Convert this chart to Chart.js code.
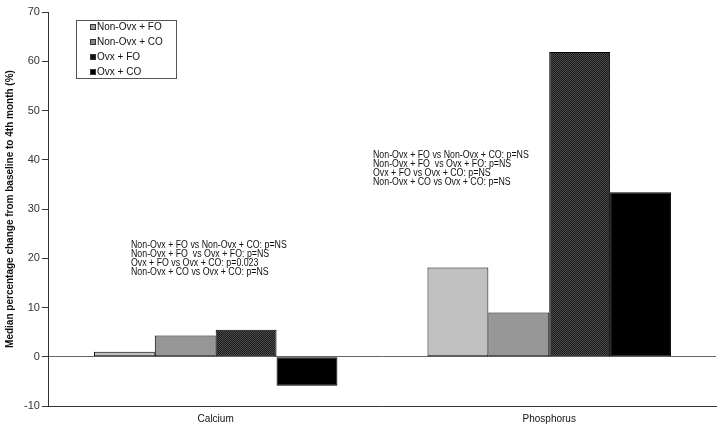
<!DOCTYPE html>
<html lang="en">
<head>
<meta charset="UTF-8">
<title>Median percentage change</title>
<script src="https://cdn.jsdelivr.net/npm/chart.js"></script>
<style>
  html, body { margin: 0; padding: 0; background: #fff; }
  #wrap { width: 721px; height: 433px; }
</style>
</head>
<body>
<div id="wrap"><canvas id="chart" width="721" height="433"></canvas></div>
<script>
const categories = ['Calcium', 'Phosphorus'];
const groups = ['Non-Ovx + FO', 'Non-Ovx + CO', 'Ovx + FO', 'Ovx + CO'];
const nonOvxFO = [1.0, 18.1];
const nonOvxCO = [4.3, 9.0];
const ovxFO = [5.5, 61.9];
const ovxCO = [-5.9, 33.4];
const yTicks = [-10, 0, 10, 20, 30, 40, 50, 60, 70];

const calciumNotes = [
  'Non-Ovx + FO vs Non-Ovx + CO: p=NS',
  'Non-Ovx + FO  vs Ovx + FO: p=NS',
  'Ovx + FO vs Ovx + CO: p=0.023',
  'Non-Ovx + CO vs Ovx + CO: p=NS'
];
const phosphorusNotes = [
  'Non-Ovx + FO vs Non-Ovx + CO: p=NS',
  'Non-Ovx + FO  vs Ovx + FO: p=NS',
  'Ovx + FO vs Ovx + CO: p=NS',
  'Non-Ovx + CO vs Ovx + CO: p=NS'
];

// dotted dark fill for the Ovx + FO bars
function dotPattern() {
  const c = document.createElement('canvas');
  c.width = 2; c.height = 2;
  const g = c.getContext('2d');
  g.fillStyle = '#1c1c1c'; g.fillRect(0, 0, 2, 2);
  g.fillStyle = '#4a4a4a'; g.fillRect(0, 0, 1, 1); g.fillRect(1, 1, 1, 1);
  return g.createPattern(c, 'repeat');
}
const ctx = document.getElementById('chart').getContext('2d');
const fills = ['#c0c0c0', '#969696', dotPattern(), '#000000'];
const swatch = ['#999999', '#888888', '#111111', '#000000'];

// narrow-looking text, like the original figure
function narrowText(c, t, x, y) {
  c.save();
  c.translate(x, y);
  c.scale(0.88, 1);
  c.fillText(t, 0, 0);
  c.restore();
}

const notesPlugin = {
  id: 'notes',
  afterDraw(chart) {
    const c = chart.ctx;
    c.save();
    c.font = '10px "Liberation Sans", Arial, sans-serif';
    c.fillStyle = '#111';
    c.textBaseline = 'middle';
    calciumNotes.forEach((t, i) => narrowText(c, t, 131, 245 + i * 9.2));
    phosphorusNotes.forEach((t, i) => narrowText(c, t, 373, 155 + i * 9.2));

    // legend box
    c.strokeStyle = '#555';
    c.lineWidth = 1;
    c.strokeRect(76.5, 20.5, 100, 58);
    c.font = '10px "Liberation Sans", Arial, sans-serif';
    groups.forEach((g, i) => {
      const ly = 27 + i * 15;
      c.fillStyle = swatch[i];
      c.fillRect(90, ly - 3, 6, 6);
      c.strokeStyle = '#333';
      c.strokeRect(90.5, ly - 2.5, 5, 5);
      c.fillStyle = '#111';
      c.fillText(g, 97, ly);
    });
    c.restore();
  }
};

new Chart(ctx, {
  type: 'bar',
  data: {
    labels: categories,
    datasets: [nonOvxFO, nonOvxCO, ovxFO, ovxCO].map((d, i) => ({
      label: groups[i],
      data: d,
      backgroundColor: fills[i],
      borderColor: '#000',
      borderWidth: 1,
      borderSkipped: false,
      barPercentage: 1.0,
      categoryPercentage: 0.73
    }))
  },
  options: {
    responsive: false,
    animation: false,
    layout: { padding: { top: 12, right: 5, left: 4, bottom: 9 } },
    plugins: {
      legend: { display: false },
      tooltip: { enabled: false }
    },
    scales: {
      x: {
        grid: { display: false },
        border: { display: true, color: '#333', width: 1 },
        ticks: { color: '#111', font: { size: 10, lineHeight: 1, family: '"Liberation Sans", Arial' }, padding: 0 }
      },
      y: {
        min: -10,
        max: 70,
        afterBuildTicks: s => { s.ticks = yTicks.map(v => ({ value: v })); },
        grid: {
          drawOnChartArea: true,
          color: c => c.tick && c.tick.value === 0 ? '#666' : 'transparent',
          tickColor: '#333',
          tickLength: 7
        },
        border: { display: true, color: '#333', width: 1 },
        ticks: { color: '#333', font: { size: 11, family: '"Liberation Sans", Arial' }, padding: 2 },
        title: {
          display: true,
          text: 'Median percentage change from baseline to 4th month (%)',
          color: '#111',
          font: { size: 10, weight: 'bold', family: '"Liberation Sans", Arial' },
          padding: { top: 0, bottom: 6 }
        }
      }
    }
  },
  plugins: [notesPlugin]
});
</script>
</body>
</html>
